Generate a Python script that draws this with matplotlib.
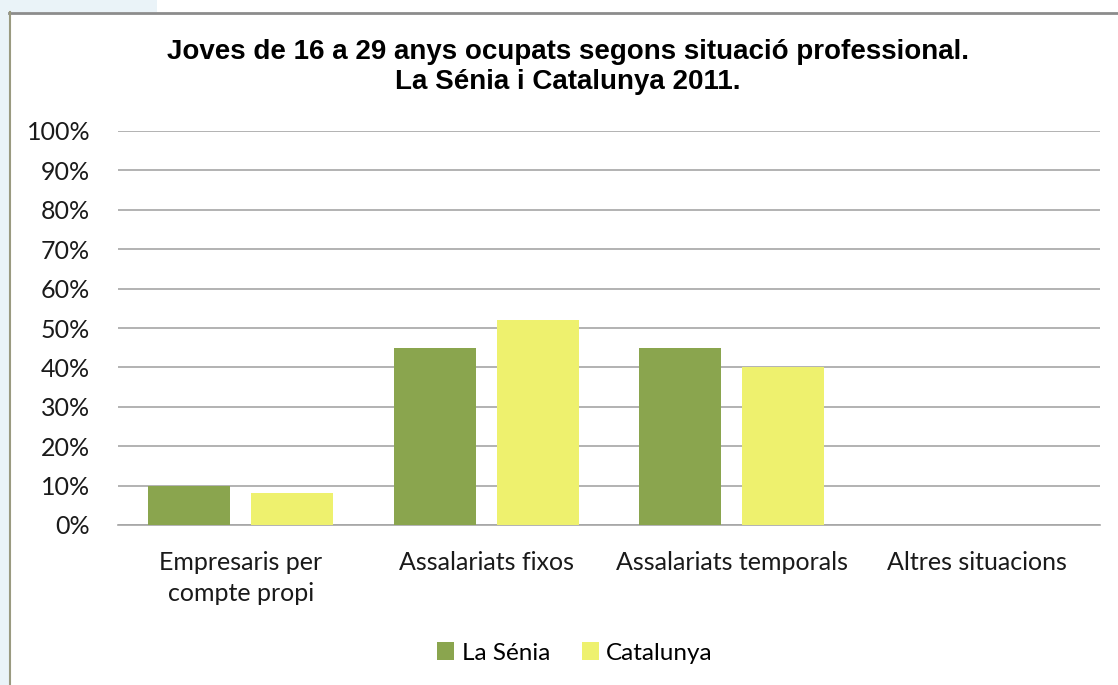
import matplotlib.pyplot as plt
import matplotlib.patches as mpatches
from matplotlib.ticker import FuncFormatter
import numpy as np

categories = ["Empresaris per\ncompte propi", "Assalariats fixos",
              "Assalariats temporals", "Altres situacions"]
senia = [10, 45, 45, 0]
catalunya = [8, 52, 40, 0]
series_names = ["La Sénia", "Catalunya"]

GREEN = "#8AA54E"
YELLOW = "#EEF16E"
GRID = "#A6A6A6"

fig = plt.figure(figsize=(11.18, 6.85), dpi=100)

# light blue page background around the chart frame
fig.patches.append(mpatches.Rectangle((0, 0), 9 / 1118, 1, transform=fig.transFigure,
                                      facecolor="#EAF3F8", edgecolor="none", zorder=0))
fig.patches.append(mpatches.Rectangle((0, 1 - 12 / 685), 157 / 1118, 12 / 685,
                                      transform=fig.transFigure,
                                      facecolor="#EAF3F8", edgecolor="none", zorder=0))
# chart frame
fig.add_artist(plt.Line2D([9 / 1118, 1], [1 - 12.5 / 685, 1 - 12.5 / 685],
                          transform=fig.transFigure, color="#8C8C8C", lw=2))
fig.add_artist(plt.Line2D([9.5 / 1118, 9.5 / 1118], [0, 1 - 12 / 685],
                          transform=fig.transFigure, color="#9A9A80", lw=1.5))

ax = fig.add_axes([118 / 1118, 160 / 685, 982 / 1118, 394 / 685])

x = np.arange(len(categories))
bw = 0.335
ax.bar(x - 0.21, senia, bw, color=GREEN, label=series_names[0], zorder=3)
ax.bar(x + 0.21, catalunya, bw, color=YELLOW, label=series_names[1], zorder=3)

ax.set_xlim(-0.5, len(categories) - 0.5)
ax.set_ylim(0, 100)
ax.set_yticks(np.arange(0, 101, 10))
ax.yaxis.set_major_formatter(FuncFormatter(lambda v, p: f"{int(v)}%"))
ax.grid(axis="y", color=GRID, lw=1.2, zorder=0)
for s in ["top", "right", "left"]:
    ax.spines[s].set_visible(False)
ax.spines["bottom"].set_color(GRID)
ax.spines["bottom"].set_linewidth(1.2)
ax.tick_params(axis="both", length=0, labelsize=18, colors="#1a1a1a")
ax.tick_params(axis="y", pad=20)
ax.tick_params(axis="x", pad=18.5)
ax.set_xticks(x)
ax.set_xticklabels(categories, fontfamily="Lato", linespacing=1.45)
for lbl in ax.get_yticklabels():
    lbl.set_fontfamily("Lato")

fig.text(568 / 1118, 1 - 67 / 685, "Joves de 16 a 29 anys ocupats segons situació professional.\nLa Sénia i Catalunya 2011.",
         ha="center", va="center", fontsize=20, fontweight="bold",
         fontfamily="Liberation Sans", linespacing=1.2)

leg = fig.legend(loc="center", bbox_to_anchor=(575 / 1118, 1 - 653 / 685), ncol=2,
                 frameon=False, prop={"family": "Lato", "size": 17.5},
                 handlelength=0.7, handleheight=0.7, handletextpad=0.3,
                 columnspacing=1.3)

fig.savefig("out.png", dpi=100)
